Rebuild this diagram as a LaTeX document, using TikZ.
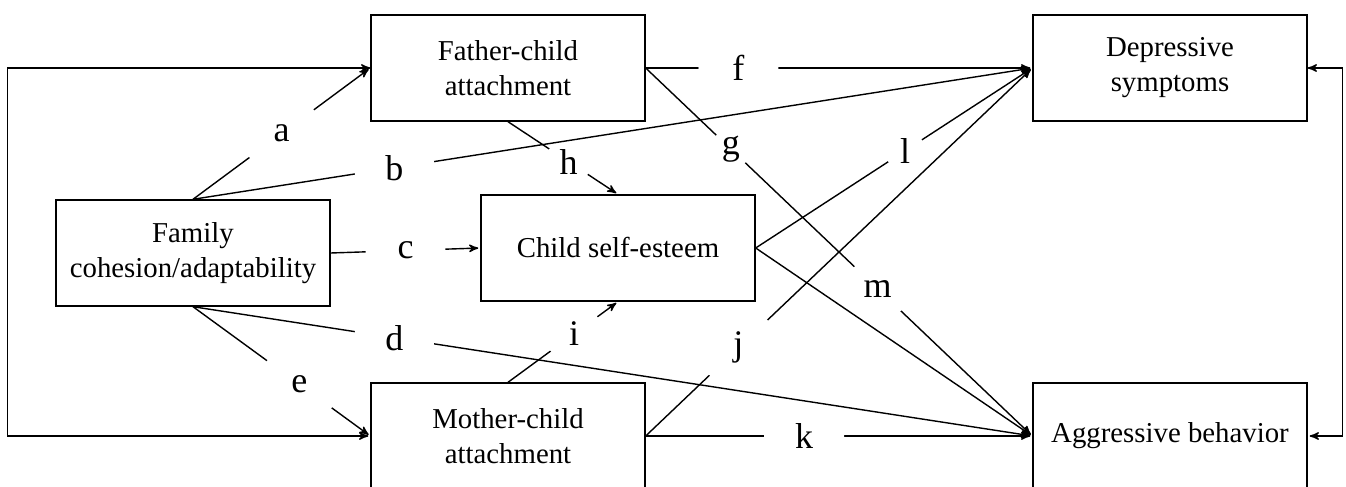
\documentclass[tikz,border=0pt]{standalone}
\usepackage{fontspec}
\setmainfont{Liberation Serif}
\usetikzlibrary{arrows, positioning}

\begin{document}
\begin{tikzpicture}[->, >=stealth', shorten >=1pt, node distance=157.5pt, line width=0.7pt,
    box/.style={rectangle, draw, minimum width=137pt, minimum height=53pt, inner sep=0pt, align=center, font=\fontsize{14.4}{17.5}\selectfont},
    lbl/.style={circle, fill=white, inner sep=0pt, minimum size=40pt, font=\fontsize{18}{18}\selectfont}]
  \useasboundingbox (-96.5pt,-117pt) rectangle (576.5pt,126.5pt);

  \node[box] (fam) {Family\\cohesion/adaptability};
  \node[box, right of=fam, yshift=92.5pt] (fat) {Father-child\\attachment};
  \node[box, right of=fam, xshift=55pt, yshift=2.5pt] (ces) {Child self-esteem};
  \node[box, right of=fam, yshift=-91.5pt] (mot) {Mother-child\\attachment};
  \node[box, right of=fat, xshift=173.5pt] (dep) {Depressive\\symptoms};
  \node[box, right of=mot, xshift=173.5pt] (agg) {Aggressive behavior};

  \draw[<->] (fat.west) -- ++(-181.5pt,0) |- (mot.west);
  \draw[<->] (dep.east) -- ++(17.5pt,0) |- (agg.east);

  \path (fam.north) edge node[lbl] {a} (fat.west)
        (fam.east) edge node[lbl] {c} (ces.west)
        (fam.south) edge node[lbl, pos=.6] {e} (mot.west)
        (fat.east) edge node[lbl, pos=.24] {f} (dep.west)
        (fat.east) edge node[lbl, pos=.22, minimum size=20pt] {g}
                        node[lbl, pos=.6, minimum size=32pt] {m} (agg.west)
        (fat.south) edge node[lbl, pos=.55, minimum size=23pt] {h} (ces.north)
        (mot.north) edge node[lbl, pos=.6, minimum size=29pt] {i} (ces.south)
        (mot.east) edge node[lbl, pos=.24] {j} (dep.west)
        (mot.east) edge node[lbl, pos=.41] {k} (agg.west)
        (ces.east) edge node[lbl, pos=.54, minimum size=20pt] {l} (dep.west)
        (ces.east) edge (agg.west)
        (fam.north) edge node[lbl, pos=.24] {b} (dep.west)
        (fam.south) edge node[lbl, pos=.24] {d} (agg.west);
\end{tikzpicture}
\end{document}
